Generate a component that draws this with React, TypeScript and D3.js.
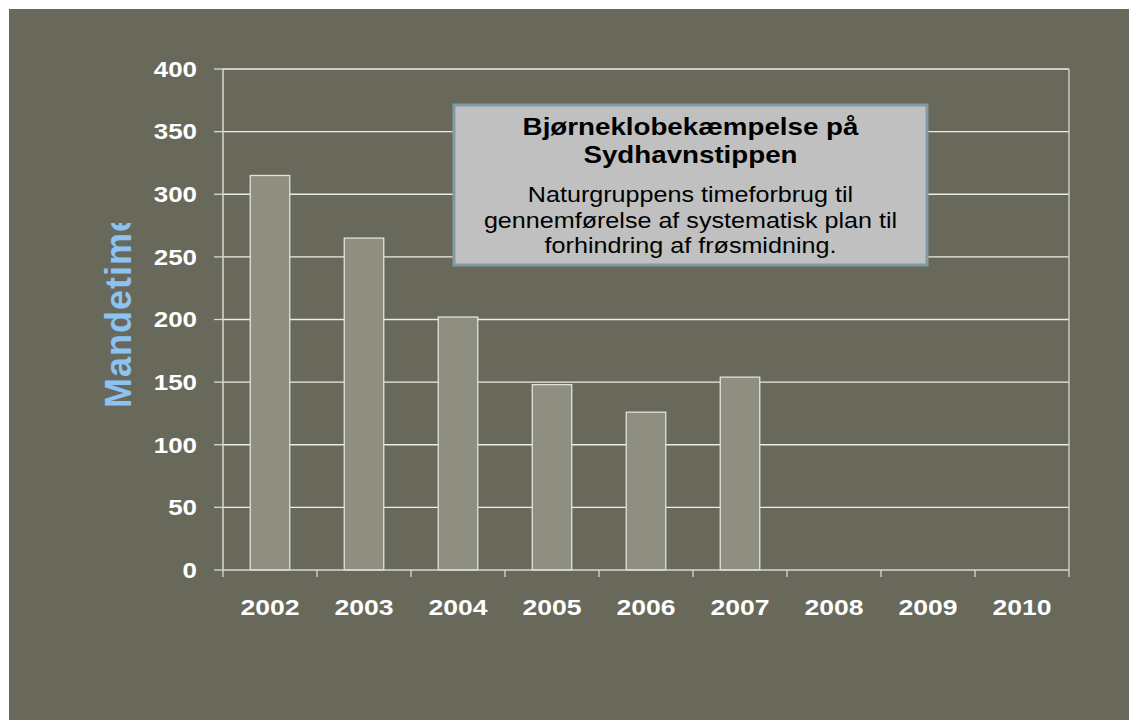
import React from "react";
import { scaleBand, scaleLinear } from "d3";

const years = ["2002", "2003", "2004", "2005", "2006", "2007", "2008", "2009", "2010"];
const hours = [315, 265, 202, 148, 126, 154, null, null, null];
const yTicks = [0, 50, 100, 150, 200, 250, 300, 350, 400];
const titleLines = ["Bjørneklobekæmpelse på", "Sydhavnstippen"];
const bodyLines = [
    "Naturgruppens timeforbrug til",
    "gennemførelse af systematisk plan til",
    "forhindring af frøsmidning."
];
const yLabel = "Mandetimer";

const W = 1129;
const H = 720;
const plot = { left: 223, right: 1069, top: 69, bottom: 570 };
// the source slide is stretched sideways, so the text is too
const SX = 1.18;

export default function App() {
    const x = scaleBand<string>()
        .domain(years)
        .range([plot.left, plot.right])
        .paddingInner(0.58)
        .paddingOuter(0.29);

    const y = scaleLinear().domain([0, 400]).range([plot.bottom, plot.top]);

    const step = x.step();
    const font = "'Liberation Sans', Arial, sans-serif";

    return (
        <svg
            width={W}
            height={H}
            style={{ position: "absolute", left: 0, top: 0 }}
            fontFamily={font}
        >
            <rect x={0} y={0} width={W} height={H} fill="#ffffff" />
            <rect x={9} y={9} width={W - 9} height={H - 9} fill="#68695b" />

            {/* gridlines */}
            {yTicks.filter(t => t > 0).map(t => (
                <line
                    key={t}
                    x1={plot.left}
                    x2={plot.right}
                    y1={y(t)}
                    y2={y(t)}
                    stroke="#ecece6"
                    strokeWidth={1.3}
                />
            ))}
            <line x1={plot.right} x2={plot.right} y1={plot.top} y2={plot.bottom} stroke="#c9c9c1" strokeWidth={1.5} />

            {/* bars */}
            {years.map((yr, i) => {
                const v = hours[i];
                if (v == null) return null;
                return (
                    <rect
                        key={yr}
                        x={x(yr)}
                        y={y(v)}
                        width={x.bandwidth()}
                        height={y(0) - y(v)}
                        fill="#8e8f80"
                        stroke="#e2e2da"
                        strokeWidth={1.3}
                    />
                );
            })}

            {/* axes */}
            <line x1={plot.left} x2={plot.left} y1={plot.top} y2={plot.bottom} stroke="#d8d8d0" strokeWidth={1.5} />
            <line x1={plot.left} x2={plot.right} y1={plot.bottom} y2={plot.bottom} stroke="#d8d8d0" strokeWidth={1.5} />
            {yTicks.map(t => (
                <g key={t}>
                    <line x1={plot.left - 9} x2={plot.left} y1={y(t)} y2={y(t)} stroke="#d8d8d0" strokeWidth={1.3} />
                    <text
                        transform={`translate(197, ${y(t) + 7.8}) scale(${SX}, 1)`}
                        textAnchor="end"
                        fontSize={22}
                        fontWeight="bold"
                        fill="#ffffff"
                    >
                        {t}
                    </text>
                </g>
            ))}
            {years.map((yr, i) => (
                <line
                    key={yr}
                    x1={plot.left + step * i}
                    x2={plot.left + step * i}
                    y1={plot.bottom}
                    y2={plot.bottom + 7}
                    stroke="#d8d8d0"
                    strokeWidth={1.3}
                />
            ))}
            <line x1={plot.right} x2={plot.right} y1={plot.bottom} y2={plot.bottom + 7} stroke="#d8d8d0" strokeWidth={1.3} />
            {years.map(yr => (
                <text
                    key={yr}
                    transform={`translate(${(x(yr) ?? 0) + x.bandwidth() / 2}, 615) scale(${SX}, 1)`}
                    textAnchor="middle"
                    fontSize={22.5}
                    fontWeight="bold"
                    fill="#ffffff"
                >
                    {yr}
                </text>
            ))}

            {/* y label, clipped like in the source */}
            <defs>
                <clipPath id="ylab-clip">
                    <rect x={60} y={223} width={100} height={300} />
                </clipPath>
            </defs>
            <g clipPath="url(#ylab-clip)">
                <text
                    transform="translate(131, 408) rotate(-90)"
                    fontSize={36}
                    fontWeight="bold"
                    letterSpacing={1}
                    fill="#8dc3f2"
                >
                    {yLabel}
                </text>
            </g>

            {/* title box */}
            <rect x={454} y={105} width={473} height={160} fill="#c0c0c0" stroke="#7f9ba3" strokeWidth={3} />
            {titleLines.map((l, i) => (
                <text
                    key={l}
                    transform={`translate(690.5, ${135 + i * 28}) scale(${SX}, 1)`}
                    textAnchor="middle"
                    fontSize={23.5}
                    fontWeight="bold"
                    fill="#000000"
                >
                    {l}
                </text>
            ))}
            {bodyLines.map((l, i) => (
                <text
                    key={l}
                    transform={`translate(690.5, ${202 + i * 25.5}) scale(${SX}, 1)`}
                    textAnchor="middle"
                    fontSize={21.3}
                    fill="#000000"
                >
                    {l}
                </text>
            ))}
        </svg>
    );
}
